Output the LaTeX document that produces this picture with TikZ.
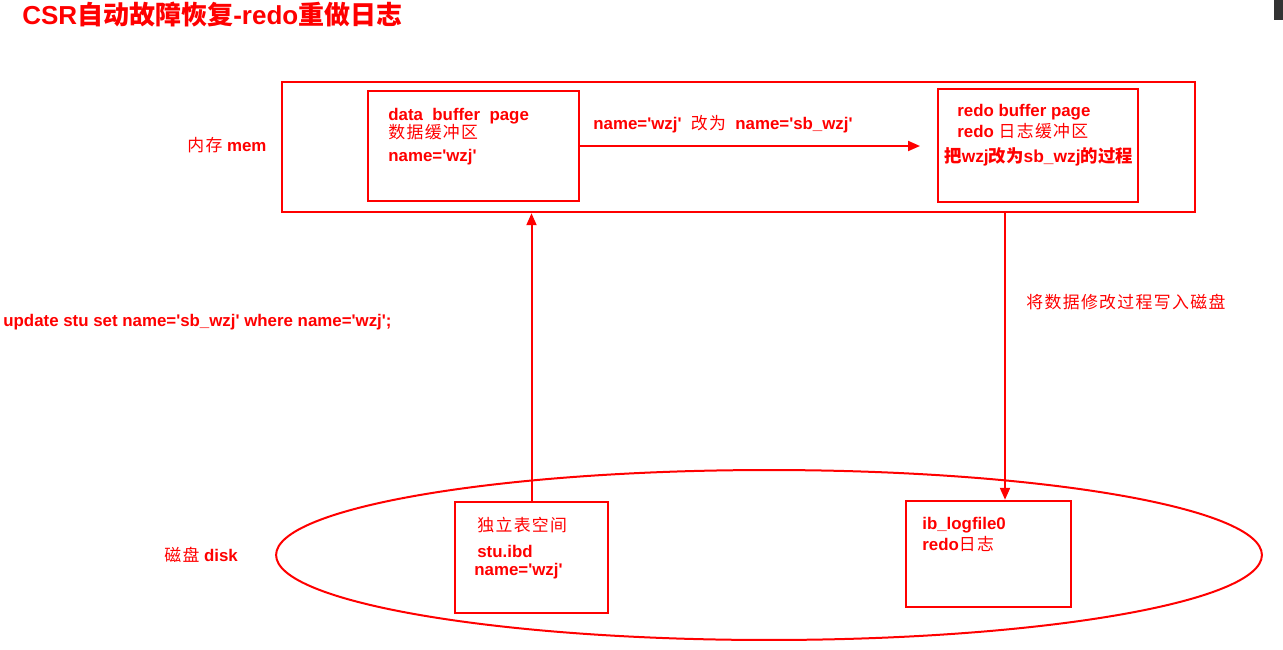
\documentclass[tikz,border=0pt]{standalone}
\usepackage{fontspec}
\setmainfont{Liberation Sans}
\newfontfamily\cjk{Noto Sans CJK SC}[LetterSpace=8]
\newfontfamily\cjkbold{Noto Sans CJK SC}
\usetikzlibrary{shapes.geometric, arrows.meta, positioning, calc}
\definecolor{memred}{RGB}{255, 0, 0}
\newcommand{\zh}[1]{{\cjk\mdseries #1}}
\newcommand{\zhb}[1]{{\cjkbold\bfseries #1}}
\newcommand{\sq}{\textquotesingle}

\begin{document}
\begin{tikzpicture}[x=0.02cm, y=-0.02cm,
  box/.style={draw=memred, line width=0.05cm, inner sep=0pt},
  txt/.style={anchor=base west, inner sep=0pt, text=memred, font=\fontsize{9.6}{11}\selectfont\bfseries},
  arr/.style={memred, line width=0.04cm, -{Triangle[length=0.24cm, width=0.2cm]}}]
  \useasboundingbox (0,0) rectangle (1283,649);
  \fill[black!80] (1274,0) rectangle (1283,20);

  % title
  \node[txt, font=\fontsize{14.8}{16}\selectfont\bfseries] (title) at (22,24) {CSR\zhb{自动故障恢复}-redo\zhb{重做日志}};

  % memory part
  \node[box, minimum width=18.26cm, minimum height=2.6cm] (mem) at (738.5,147) {};
  \node[txt] (memlbl) at (187,151) {\zh{内存} mem};
  \node[box, minimum width=4.22cm, minimum height=2.2cm] (databuf) at (473.5,146) {};
  \node[txt] (data1) at (388,120) {data\ \ buffer\ \ page};
  \node[txt] (data2) at (388,138) {\zh{数据缓冲区}};
  \node[txt] (data3) at (388,161) {name=\sq wzj\sq};
  \node[box, minimum width=4.0cm, minimum height=2.26cm] (redobuf) at (1038,145.5) {};
  \node[txt] (redo1) at (957,116) {redo buffer page};
  \node[txt] (redo2) at (957,137) {redo \zh{日志缓冲区}};
  \node[txt, font=\fontsize{9.9}{11}\selectfont\bfseries] (redo3) at (944,162) {\zhb{把}wzj\zhb{改为}sb\_wzj\zhb{的过程}};
  \node[txt] (change) at (593,129) {name=\sq wzj\sq\ \ \zh{改为}\ \ name=\sq sb\_wzj\sq};

  % statement and disk write
  \node[txt] (sql) at (3,326) {update stu set name=\sq sb\_wzj\sq{} where name=\sq wzj\sq;};
  \node[txt] (write) at (1026,308) {\zh{将数据修改过程写入磁盘}};

  % disk part
  \node[draw=memred, line width=0.04cm, ellipse, inner sep=0pt, minimum width=19.72cm, minimum height=3.4cm] (disk) at (769,555) {};
  \node[txt] (disklbl) at (164,561) {\zh{磁盘} disk};
  \node[box, minimum width=3.06cm, minimum height=2.22cm] (ibd) at (531.5,557.5) {};
  \node[txt] (ibd1) at (477,531) {\zh{独立表空间}};
  \node[txt] (ibd2) at (477,557) {stu.ibd};
  \node[txt] (ibd3) at (474,575) {name=\sq wzj\sq};
  \node[box, minimum width=3.3cm, minimum height=2.12cm] (log) at (988.5,554) {};
  \node[txt] (log1) at (922,529) {ib\_logfile0};
  \node[txt] (log2) at (922,550) {redo\zh{日志}};

  % arrows
  \coordinate (redoin) at (920,146);
  \coordinate (logtop) at ([xshift=0.33cm]log.north);
  \draw[arr] (databuf.east) -- (redoin);
  \draw[arr] (ibd.north) -- (ibd.north |- mem.south);
  \draw[arr] (logtop |- mem.south) -- (logtop);
\end{tikzpicture}
\end{document}
